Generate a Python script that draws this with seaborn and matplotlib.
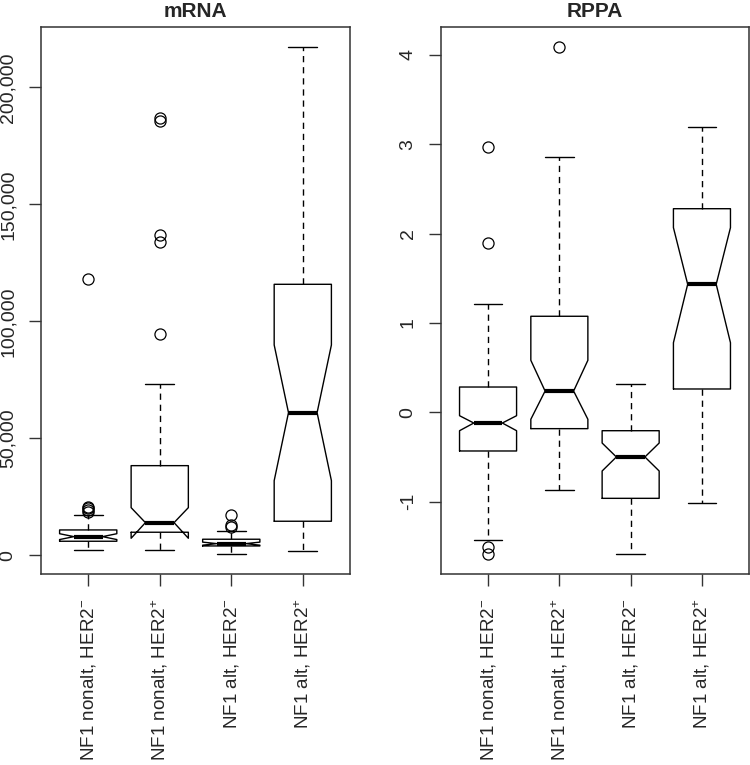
import matplotlib
matplotlib.use("Agg")
import matplotlib.pyplot as plt
import seaborn as sns

# group labels (same for both panels)
GROUPS = ["NF1 nonalt, HER2$^{-}$", "NF1 nonalt, HER2$^{+}$",
          "NF1 alt, HER2$^{-}$", "NF1 alt, HER2$^{+}$"]

# mRNA panel: box summaries
MRNA_WLO = [2140, 2140, 430, 1970]
MRNA_Q1 = [5980, 9830, 3970, 14530]
MRNA_MED = [7950, 13930, 4960, 60940]
MRNA_Q3 = [10810, 38290, 6840, 115800]
MRNA_WHI = [17220, 73330, 10510, 217220]
MRNA_CILO = [6700, 7260, 4300, 31880]
MRNA_CIHI = [9200, 20340, 5600, 89870]
MRNA_FLIERS = [[18500, 19300, 20000, 20500, 117950],
               [94570, 134020, 137000, 185600, 187000],
               [11960, 12950, 17200],
               []]

# RPPA panel
RPPA_WLO = [-1.426, -0.870, -1.590, -1.012]
RPPA_Q1 = [-0.433, -0.183, -0.963, 0.261]
RPPA_MED = [-0.120, 0.238, -0.500, 1.433]
RPPA_Q3 = [0.283, 1.075, -0.206, 2.279]
RPPA_WHI = [1.209, 2.855, 0.313, 3.197]
RPPA_CILO = [-0.206, -0.078, -0.657, 0.779]
RPPA_CIHI = [-0.038, 0.582, -0.344, 2.067]
RPPA_FLIERS = [[-1.586, -1.504, 1.895, 2.973],
               [4.093],
               [],
               []]

sns.set_theme(style="white")
plt.rcParams["font.family"] = ["Liberation Sans", "DejaVu Sans"]
plt.rcParams["mathtext.fontset"] = "custom"
plt.rcParams["mathtext.rm"] = "Liberation Sans"
plt.rcParams["mathtext.default"] = "regular"


def make_stats(wlo, q1, med, q3, whi, cilo, cihi, fliers):
    stats = []
    for i in range(len(med)):
        stats.append({"whislo": wlo[i], "q1": q1[i], "med": med[i], "q3": q3[i],
                      "whishi": whi[i], "cilo": cilo[i], "cihi": cihi[i],
                      "fliers": fliers[i], "label": GROUPS[i]})
    return stats


def draw_panel(ax, stats, title, ylim, yticks, ylabels):
    ax.bxp(stats, positions=[1, 2, 3, 4], widths=0.8, shownotches=True,
           showfliers=True, patch_artist=False,
           boxprops=dict(color="black", linewidth=1.0),
           medianprops=dict(color="black", linewidth=3.0, solid_capstyle="butt"),
           whiskerprops=dict(color="black", linewidth=1.0,
                             linestyle=(0, (4.5, 3.5))),
           capprops=dict(color="black", linewidth=1.0),
           capwidths=0.4,
           flierprops=dict(marker="o", markerfacecolor="none",
                           markeredgecolor="black", markersize=8,
                           markeredgewidth=0.9))
    ax.set_xlim(0.34, 4.66)
    ax.set_ylim(*ylim)
    ax.set_yticks(yticks)
    ax.set_yticklabels(ylabels, rotation=90, va="center")
    ax.set_xticks([1, 2, 3, 4])
    ax.set_xticklabels(GROUPS, rotation=90, va="top", ha="center")
    ax.tick_params(axis="both", which="both", direction="out", length=8.5,
                   width=1.0, color="#333333", pad=9, left=True, bottom=True)
    ax.tick_params(axis="y", labelsize=14)
    ax.tick_params(axis="x", labelsize=13.6)
    ax.set_title(title, fontsize=15, fontweight="bold", pad=7)
    for s in ax.spines.values():
        s.set_color("#333333")
        s.set_linewidth(1.1)


fig = plt.figure(figsize=(7.5, 7.65), dpi=100)
ax1 = fig.add_axes([41 / 750, 1 - 574 / 765, 309 / 750, 547 / 765])
ax2 = fig.add_axes([441 / 750, 1 - 574 / 765, 308 / 750, 547 / 765])

mrna = make_stats(MRNA_WLO, MRNA_Q1, MRNA_MED, MRNA_Q3, MRNA_WHI,
                  MRNA_CILO, MRNA_CIHI, MRNA_FLIERS)
rppa = make_stats(RPPA_WLO, RPPA_Q1, RPPA_MED, RPPA_Q3, RPPA_WHI,
                  RPPA_CILO, RPPA_CIHI, RPPA_FLIERS)

mrna_ticks = [0, 50000, 100000, 150000, 200000]
draw_panel(ax1, mrna, "mRNA", (-8020, 225770), mrna_ticks,
           [f"{t:,}" for t in mrna_ticks])
rppa_ticks = [-1, 0, 1, 2, 3, 4]
draw_panel(ax2, rppa, "RPPA", (-1.81, 4.313), rppa_ticks,
           [str(t) for t in rppa_ticks])

fig.savefig("out.png", dpi=100)
